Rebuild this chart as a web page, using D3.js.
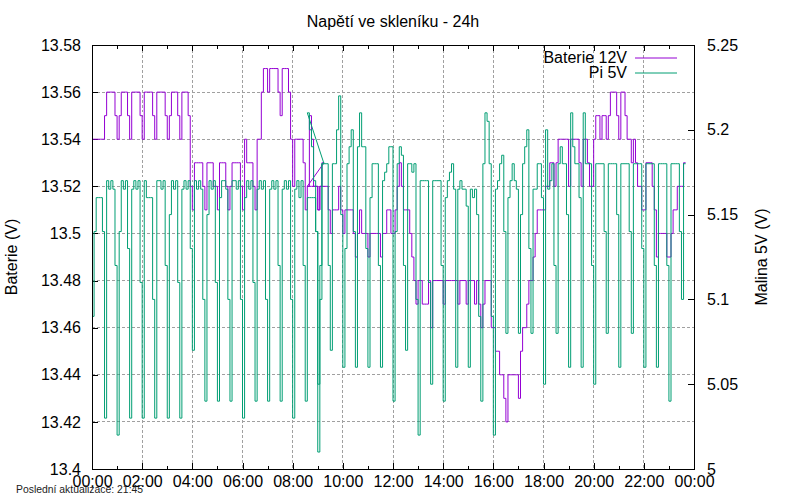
<!DOCTYPE html>
<html>
<head>
<meta charset="utf-8">
<script src="https://cdn.jsdelivr.net/npm/d3@7"></script>
<style>
  body { margin: 0; background: #fff; }
  svg { font-family: "Liberation Sans", Arial, sans-serif; }
  .grid line { stroke: #a0a0a0; stroke-width: 1; stroke-dasharray: 2.5,2.5; shape-rendering: crispEdges; }
  .axis text { font-size: 16px; fill: #000; }
  .axis line { stroke: #000; shape-rendering: crispEdges; }
</style>
</head>
<body>
<svg width="800" height="500"></svg>
<script>
// casove osy - vzorky po 5 minutach
var stepMin = 5;
var seg1Start = "00:00";
var seg2Start = "08:35";

// Baterie 12V (leva osa), prvni usek 00:00 - 09:15
var batt1 = [
  13.54,13.54,13.54,13.54,13.54,13.54,13.55,13.56,13.56,13.56,13.56,13.55,
  13.54,13.55,13.56,13.56,13.56,13.55,13.54,13.56,13.56,13.56,13.56,13.55,
  13.54,13.56,13.56,13.56,13.56,13.55,13.54,13.56,13.56,13.56,13.56,13.55,
  13.54,13.55,13.56,13.56,13.56,13.55,13.54,13.56,13.56,13.56,13.55,13.52,
  13.51,13.53,13.53,13.53,13.53,13.52,13.51,13.53,13.53,13.53,13.52,13.52,
  13.51,13.53,13.53,13.53,13.52,13.51,13.52,13.53,13.53,13.53,13.53,13.52,
  13.51,13.54,13.53,13.53,13.53,13.52,13.51,13.54,13.54,13.56,13.57,13.57,
  13.56,13.57,13.57,13.57,13.57,13.56,13.55,13.57,13.57,13.57,13.56,13.54,
  13.52,13.54,13.54,13.54,13.54,13.53,13.51,13.52,13.52,13.52,13.52,13.52,
  13.51,13.52,13.53,13.53
];
// Pi 5V (prava osa), prvni usek
var pi1 = [
  5.09,5.14,5.16,5.16,5.16,5.14,5.03,5.17,5.165,5.17,5.165,5.12,
  5.02,5.14,5.17,5.165,5.17,5.13,5.03,5.165,5.17,5.165,5.17,5.11,
  5.03,5.17,5.16,5.16,5.16,5.10,5.03,5.17,5.17,5.165,5.17,5.12,
  5.03,5.15,5.17,5.165,5.17,5.11,5.03,5.165,5.17,5.165,5.17,5.13,
  5.07,5.17,5.165,5.17,5.165,5.10,5.04,5.15,5.17,5.165,5.17,5.11,
  5.04,5.16,5.17,5.17,5.165,5.10,5.04,5.17,5.17,5.165,5.17,5.10,
  5.03,5.16,5.17,5.165,5.17,5.11,5.04,5.165,5.17,5.165,5.17,5.10,
  5.04,5.165,5.17,5.165,5.17,5.12,5.04,5.165,5.17,5.165,5.17,5.10,
  5.03,5.165,5.17,5.16,5.17,5.12,5.04,5.16,5.16,5.16,5.16,5.14,
  5.01,5.10,5.18,5.18
];
// druhy usek 08:35 - 23:40 (hodiny skocily zpet)
var batt2 = [
  13.52,13.55,13.54,13.52,13.52,13.51,13.52,13.52,13.52,13.52,13.51,13.50,
  13.51,13.51,13.51,13.52,13.51,13.50,13.51,13.51,13.51,13.51,13.50,13.49,
  13.50,13.51,13.50,13.50,13.50,13.49,13.50,13.50,13.50,13.50,13.50,13.49,
  13.50,13.50,13.51,13.51,13.50,13.50,13.51,13.52,13.53,13.52,13.51,13.51,
  13.51,13.50,13.49,13.48,13.47,13.48,13.48,13.47,13.47,13.47,13.48,13.46,
  13.48,13.48,13.48,13.48,13.48,13.47,13.48,13.48,13.48,13.48,13.48,13.48,
  13.47,13.48,13.48,13.48,13.47,13.48,13.48,13.48,13.47,13.48,13.47,13.46,
  13.47,13.48,13.48,13.48,13.46,13.46,13.45,13.45,13.44,13.44,13.43,13.42,
  13.44,13.44,13.44,13.44,13.44,13.43,13.45,13.46,13.46,13.47,13.48,13.48,
  13.49,13.50,13.51,13.51,13.51,13.51,13.52,13.52,13.53,13.53,13.52,13.53,
  13.54,13.54,13.54,13.54,13.54,13.52,13.54,13.54,13.54,13.54,13.53,13.52,
  13.54,13.54,13.53,13.52,13.52,13.54,13.55,13.55,13.54,13.55,13.55,13.54,
  13.55,13.56,13.56,13.56,13.55,13.54,13.56,13.56,13.55,13.54,13.54,13.53,
  13.54,13.53,13.52,13.52,13.51,13.51,13.53,13.53,13.53,13.52,13.51,13.49,
  13.50,13.50,13.50,13.50,13.49,13.49,13.50,13.51,13.51,13.52,13.52,13.52,
  13.53,13.53
];
var pi2 = [
  5.21,5.20,5.19,5.17,5.14,5.05,5.12,5.18,5.18,5.18,5.12,5.07,
  5.18,5.18,5.20,5.22,5.15,5.06,5.13,5.18,5.19,5.20,5.14,5.06,
  5.19,5.21,5.19,5.19,5.13,5.06,5.16,5.18,5.18,5.18,5.12,5.06,
  5.17,5.175,5.18,5.19,5.19,5.04,5.14,5.18,5.19,5.185,5.12,5.07,
  5.18,5.18,5.175,5.18,5.10,5.02,5.17,5.17,5.17,5.17,5.11,5.05,
  5.17,5.17,5.17,5.17,5.12,5.04,5.16,5.17,5.175,5.18,5.165,5.06,
  5.165,5.17,5.165,5.165,5.155,5.06,5.165,5.16,5.165,5.15,5.09,5.04,
  5.18,5.21,5.205,5.18,5.09,5.02,5.165,5.17,5.18,5.185,5.14,5.08,
  5.16,5.17,5.18,5.17,5.165,5.08,5.15,5.18,5.19,5.20,5.13,5.08,
  5.165,5.165,5.18,5.18,5.16,5.05,5.20,5.165,5.17,5.18,5.12,5.08,
  5.18,5.19,5.18,5.18,5.15,5.06,5.21,5.19,5.18,5.18,5.16,5.06,
  5.21,5.18,5.18,5.18,5.12,5.05,5.18,5.18,5.18,5.18,5.14,5.08,
  5.18,5.18,5.18,5.18,5.15,5.06,5.18,5.18,5.18,5.18,5.14,5.08,
  5.18,5.18,5.18,5.18,5.13,5.06,5.18,5.18,5.18,5.18,5.12,5.06,
  5.18,5.18,5.18,5.18,5.12,5.04,5.18,5.18,5.18,5.18,5.14,5.10,
  5.18,5.18
];

var xLabels = ["00:00","02:00","04:00","06:00","08:00","10:00","12:00",
               "14:00","16:00","18:00","20:00","22:00","00:00"];
var leftTicks = [13.4,13.42,13.44,13.46,13.48,13.5,13.52,13.54,13.56,13.58];
var rightTicks = [5,5.05,5.1,5.15,5.2,5.25];
var seriesNames = ["Baterie 12V", "Pi 5V"];
var colors = ["#9400d3", "#009e73"];

var svg = d3.select("svg");
var width = +svg.attr("width");
var height = +svg.attr("height");
var margin = { top: 45, right: 106, bottom: 31, left: 92 };
var plotW = width - margin.left - margin.right;
var plotH = height - margin.top - margin.bottom;

var x = d3.scaleLinear().domain([0, 1440]).range([0, plotW]);
var y = d3.scaleLinear().domain([13.4, 13.58]).range([plotH, 0]);
var y2 = d3.scaleLinear().domain([5, 5.25]).range([plotH, 0]);

var toMin = function (s) { var p = s.split(":"); return +p[0] * 60 + +p[1]; };

// schodovity prubeh: kazda hodnota drzi do dalsiho vzorku
var stepPoints = function (vals, start) {
  var t0 = toMin(start), pts = [];
  vals.forEach(function (v, i) {
    pts.push([t0 + i * stepMin, v]);
    if (i < vals.length - 1) pts.push([t0 + (i + 1) * stepMin, v]);
  });
  return pts;
};

var g = svg.append("g").attr("transform", "translate(" + margin.left + "," + margin.top + ")");

// mrizka
var majorMin = d3.range(0, 1441, 120);
var minorMin = d3.range(60, 1440, 120);
g.append("g").attr("class", "grid")
  .selectAll("line").data(leftTicks.slice(1, -1)).enter().append("line")
  .attr("x1", 0).attr("x2", plotW)
  .attr("y1", function (d) { return y(d); }).attr("y2", function (d) { return y(d); });
g.append("g").attr("class", "grid")
  .selectAll("line").data(majorMin.slice(1, -1)).enter().append("line")
  .attr("y1", 0).attr("y2", plotH)
  .attr("x1", function (d) { return x(d); }).attr("x2", function (d) { return x(d); });

// osy
g.append("g").attr("class", "axis")
  .attr("transform", "translate(0," + plotH + ")")
  .call(d3.axisBottom(x).tickValues(majorMin).tickSize(-6).tickPadding(6.5)
    .tickFormat(function (d, i) { return xLabels[i]; }));
g.append("g").attr("class", "axis")
  .call(d3.axisBottom(x).tickValues(minorMin).tickSize(-3.5).tickFormat(""))
  .attr("transform", "translate(0," + plotH + ")");
g.append("g").attr("class", "axis")
  .call(d3.axisTop(x).tickValues(majorMin).tickSize(-6).tickFormat(""));
g.append("g").attr("class", "axis")
  .call(d3.axisTop(x).tickValues(minorMin).tickSize(-3.5).tickFormat(""));
g.append("g").attr("class", "axis")
  .call(d3.axisLeft(y).tickValues(leftTicks).tickSize(-6).tickPadding(11)
    .tickFormat(function (d) { return String(d); }));
g.append("g").attr("class", "axis")
  .attr("transform", "translate(" + plotW + ",0)")
  .call(d3.axisRight(y2).tickValues(rightTicks).tickSize(-6).tickPadding(13)
    .tickFormat(function (d) { return String(d); }));
g.selectAll(".axis .domain").remove();

// data
var line1 = d3.line().x(function (d) { return x(d[0]); }).y(function (d) { return y(d[1]); });
var line2 = d3.line().x(function (d) { return x(d[0]); }).y(function (d) { return y2(d[1]); });

g.append("path")
  .datum(stepPoints(batt1, seg1Start).concat(stepPoints(batt2, seg2Start)))
  .attr("fill", "none").attr("stroke", colors[0]).attr("stroke-width", 1)
  .attr("d", line1);
g.append("path")
  .datum(stepPoints(pi1, seg1Start).concat(stepPoints(pi2, seg2Start)))
  .attr("fill", "none").attr("stroke", colors[1]).attr("stroke-width", 1)
  .attr("d", line2);

// ramecek
g.append("rect").attr("width", plotW).attr("height", plotH)
  .attr("fill", "none").attr("stroke", "#000").attr("stroke-width", 1)
  .style("shape-rendering", "crispEdges");

// legenda
var leg = g.selectAll(".leg").data(seriesNames).enter().append("g")
  .attr("transform", function (d, i) { return "translate(0," + (13 + i * 15) + ")"; });
leg.append("text").text(function (d) { return d; })
  .attr("x", 535).attr("y", 4.5).attr("text-anchor", "end")
  .style("font-size", "16px");
leg.append("line").attr("x1", 543).attr("x2", 585)
  .attr("stroke", function (d, i) { return colors[i]; }).attr("stroke-width", 1);

// texty
svg.append("text").text("Napětí ve skleníku - 24h")
  .attr("x", margin.left + plotW / 2).attr("y", 27)
  .attr("text-anchor", "middle").style("font-size", "16px");
svg.append("text").text("Baterie (V)")
  .attr("transform", "translate(17," + (margin.top + plotH / 2) + ") rotate(-90)")
  .attr("text-anchor", "middle").style("font-size", "16px");
svg.append("text").text("Malina 5V (V)")
  .attr("transform", "translate(767," + (margin.top + plotH / 2) + ") rotate(-90)")
  .attr("text-anchor", "middle").style("font-size", "16px");
svg.append("text").text("Poslední aktualizace: 21:45")
  .attr("x", 16).attr("y", 493).style("font-size", "10.4px").attr("fill", "#222");
</script>
</body>
</html>
